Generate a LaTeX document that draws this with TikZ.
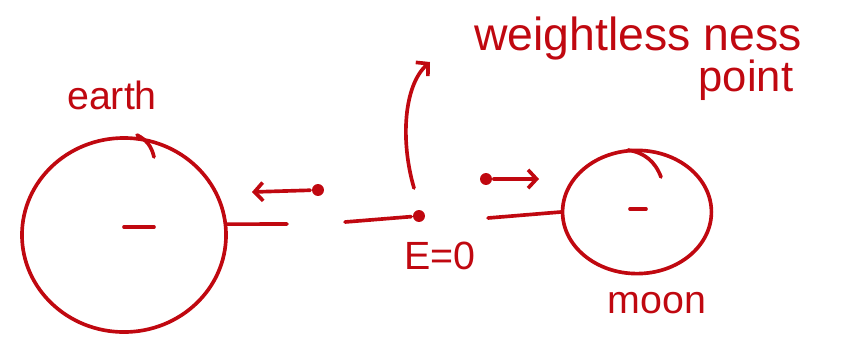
\documentclass[tikz,border=0pt]{standalone}
\usepackage{fontspec}
\setmainfont{Liberation Sans}
\usetikzlibrary{arrows.meta,shapes.geometric}
\definecolor{ink}{RGB}{192,8,16}

\begin{document}
\begin{tikzpicture}[x=0.025cm,y=-0.025cm,ink,line width=2.6pt,line cap=round,
  body/.style={draw,ellipse,inner sep=0pt},
  dotmark/.style={circle,fill,inner sep=0pt,minimum size=8.5pt},
  hand/.style={font=\fontsize{28}{32}\selectfont},
  tip/.style={-{Straight Barb[length=6pt,width=13pt]}}]
  \useasboundingbox (0,0) rectangle (851,338);
  % bodies
  \node[body,minimum width=5.1cm,minimum height=4.85cm] (earth) at (124,235) {};
  \node[body,minimum width=3.72cm,minimum height=3.08cm] (moon) at (637,212) {};
  \draw (124,227) -- (154,227);
  \draw (630,209) -- (646,209);
  \draw (137,135) to[bend left=25] (154,157);
  \draw (628,150) to[bend left=30] (661,177);
  % labels
  \node[hand] (earthlbl) at (112,95) {earth};
  \node[hand] (moonlbl) at (657,303) {moon};
  \node[hand,font=\fontsize{33}{36}\selectfont] (wlbl) at (638,38) {weightless ness};
  \node[hand,font=\fontsize{31}{36}\selectfont] (plbl) at (746,80) {point};
  \node[hand] (elbl) at (440,256) {E=0};
  % points and forces
  \node[dotmark] (zero) at (419,216) {};
  \node[dotmark] (leftdot) at (318,190) {};
  \node[dotmark] (rightdot) at (486,179) {};
  \coordinate (lefttip) at (252,192);
  \coordinate (righttip) at (539,179);
  \coordinate (eend) at (287,224);
  \coordinate (zstart) at (345,222);
  \coordinate (mstart) at (488,218);
  \coordinate (cstart) at (414,188);
  \coordinate (ctip) at (430,62);
  \draw (earth.6) -- (eend);
  \draw (zstart) -- (zero);
  \draw (mstart) -- (moon.west);
  \draw[tip] (leftdot) -- (lefttip);
  \draw[tip] (rightdot) -- (righttip);
  \draw[tip] (cstart) .. controls (400,140) and (404,85) .. (ctip);
\end{tikzpicture}
\end{document}
